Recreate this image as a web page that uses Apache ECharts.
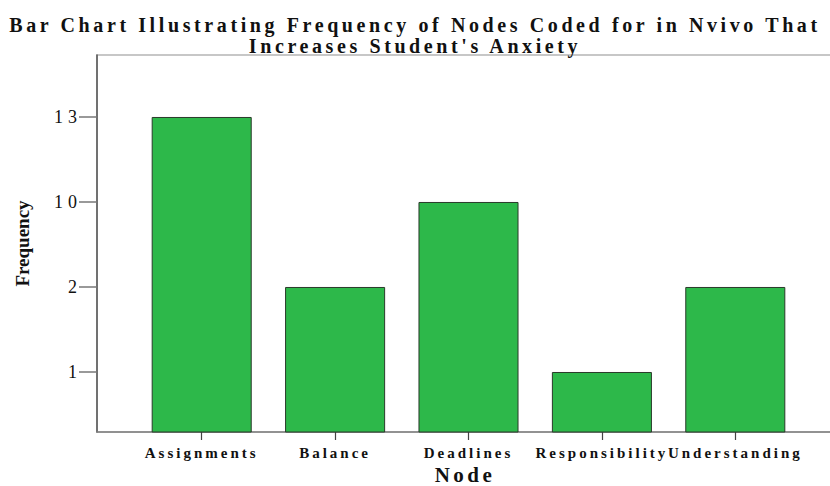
<!DOCTYPE html>
<html><head><meta charset="utf-8">
<script src="https://cdn.jsdelivr.net/npm/echarts@6/dist/echarts.min.js"></script>
<style>
html,body{margin:0;padding:0;background:#fff}
#c{width:830px;height:486px}
/* spaced-out lettering like the reference */
#c svg text[style*=" 20px"]{letter-spacing:3.6px}
#c svg text[style*=" 15px"]{letter-spacing:3px}
#c svg text[style*=" 18px"]{letter-spacing:5px}
#c svg text[style*=" 21px"]{letter-spacing:3.5px}
</style>
</head><body><div id="c"></div>
<script>
const titleLines = ["Bar Chart Illustrating Frequency of Nodes Coded for in Nvivo That", "Increases Student's Anxiety"];
const categories = ["Assignments", "Balance", "Deadlines", "Responsibility", "Understanding"];
const frequencies = [13, 2, 10, 1, 2];
const yTickLabels = ["1", "2", "10", "13"];
const xName = "Node";
const yName = "Frequency";

// the y axis is ordinal: each distinct frequency occupies one evenly spaced level
const levels = frequencies.map(v => yTickLabels.indexOf(String(v)) + 1);
const levelValues = yTickLabels.map((_, i) => i + 1);

const serif = "'Liberation Serif', 'Times New Roman', serif";
const chart = echarts.init(document.getElementById('c'), null, {renderer: 'svg'});
chart.setOption({
  animation: false,
  title: {
    text: titleLines.join('\n'), left: 'center', top: 9,
    textStyle: {fontFamily: serif, fontWeight: 'bold', fontSize: 20, lineHeight: 21, color: '#111'}
  },
  grid: [
    {left: 97, right: -3, top: 55, bottom: 54, show: true, borderColor: '#b5b5b5', borderWidth: 1.5, outerBoundsMode: 'none', containLabel: false},
    {left: 135, right: 28, top: 55, bottom: 54, outerBoundsMode: 'none', containLabel: false}
  ],
  xAxis: [
    {gridIndex: 0, type: 'value', min: 0, max: 1,
     axisLine: {show: true, lineStyle: {color: '#808080', width: 1.5}}, axisTick: {show: false}, axisLabel: {show: false}, splitLine: {show: false},
     name: xName, nameLocation: 'middle', nameGap: 34,
     nameTextStyle: {fontFamily: serif, fontWeight: 'bold', fontSize: 21, lineHeight: 18, color: '#111'}},
    {gridIndex: 1, type: 'category', data: categories,
     axisLine: {show: false}, axisTick: {show: true, alignWithLabel: true, length: 8, lineStyle: {color: '#444', width: 1.2}},
     axisLabel: {margin: 13, fontFamily: serif, fontWeight: 'bold', fontSize: 15, color: '#111', interval: 0}}
  ],
  yAxis: [
    {gridIndex: 0, type: 'value', min: 0.294, max: 4.729,
     axisLine: {show: true, lineStyle: {color: '#555', width: 1.5}},
     axisTick: {show: true, length: 18, customValues: levelValues, lineStyle: {color: '#777', width: 1.5}},
     axisLabel: {customValues: levelValues, formatter: v => yTickLabels[v - 1], margin: 15,
       fontFamily: serif, fontSize: 18, color: '#111'},
     splitLine: {show: false},
     name: yName, nameLocation: 'middle', nameGap: 65, nameRotate: 90,
     nameTextStyle: {fontFamily: serif, fontWeight: 'bold', fontSize: 19, color: '#111'}},
    {gridIndex: 1, type: 'value', min: 0.294, max: 4.729, show: false, splitLine: {show: false}}
  ],
  series: [{
    type: 'bar', xAxisIndex: 1, yAxisIndex: 1, data: levels, barCategoryGap: '25%',
    itemStyle: {color: '#2db84a', borderColor: '#2a3a2a', borderWidth: 1}
  }]
});
</script></body></html>
